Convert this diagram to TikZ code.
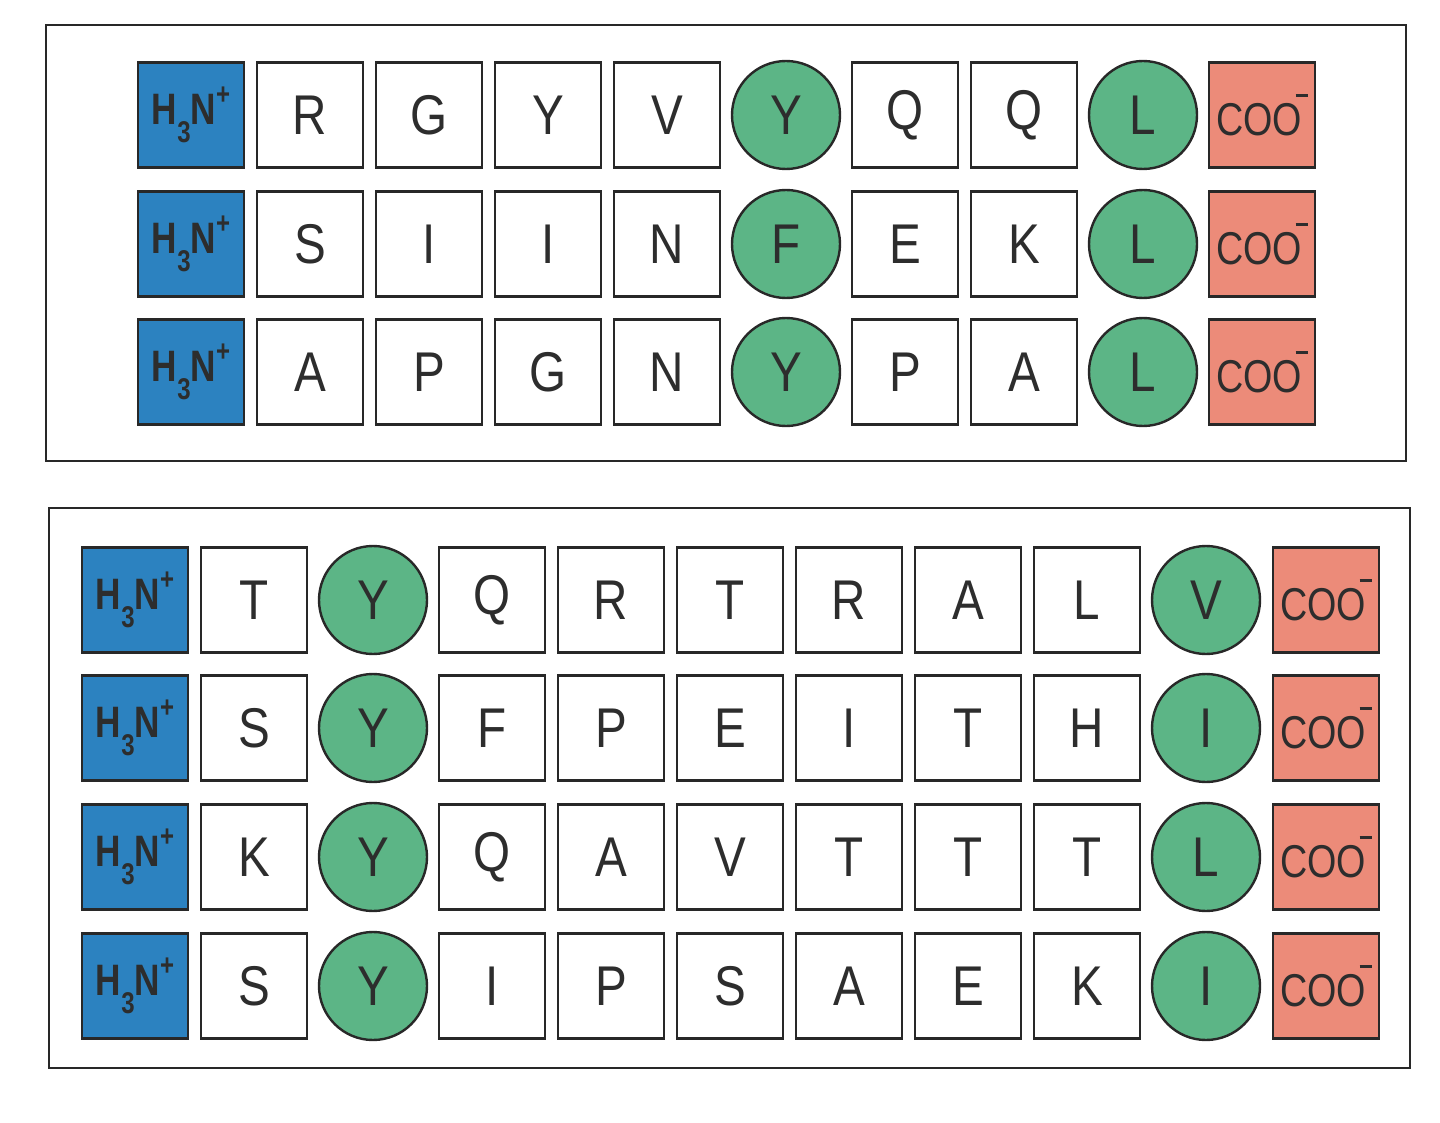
\documentclass[tikz,border=0pt]{standalone}
\usepackage{fontspec}
\setmainfont{Liberation Sans}
\usepackage{graphicx}
\definecolor{nblue}{RGB}{44,130,192}
\definecolor{rgreen}{RGB}{92,181,134}
\definecolor{csalmon}{RGB}{236,139,121}
\definecolor{edge}{RGB}{40,40,40}
\definecolor{ink}{RGB}{45,45,45}
\newcommand{\resfont}{\fontsize{56}{60}\selectfont}
\newcommand{\nterm}{\scalebox{0.8}[1]{\fontsize{44}{46}\selectfont\bfseries H\raisebox{-0.4em}{\fontsize{30}{30}\selectfont 3}N\raisebox{0.45em}{\fontsize{30}{30}\selectfont +}}}
\newcommand{\cterm}{\scalebox{0.82}[1]{\fontsize{46}{48}\selectfont COO\kern-0.17em\rule[0.85em]{0.33em}{0.065em}}}
\tikzset{
  frame/.style={draw=edge, line width=2.6pt},
  sq/.style={draw=edge, line width=2.6pt, fill=white, rectangle, minimum width=106pt, minimum height=105pt, inner sep=0pt, text=ink, font=\resfont},
  ci/.style={draw=edge, line width=2.4pt, fill=rgreen, circle, minimum size=108pt, inner sep=0pt, text=ink, font=\resfont},
  nt/.style={draw=edge, line width=2.6pt, fill=nblue, rectangle, minimum width=106pt, minimum height=105pt, inner sep=0pt, text=ink},
  ct/.style={draw=edge, line width=2.6pt, fill=csalmon, rectangle, minimum width=106pt, minimum height=105pt, inner sep=0pt, text=ink},
}
\begin{document}
\begin{tikzpicture}[x=1pt,y=-1pt]
\useasboundingbox (0,0) rectangle (1440,1123);
\draw[frame] (46,25) rectangle (1406,461);
\draw[frame] (49,508) rectangle (1410,1068);
% top panel
\foreach \row/\yy/\seq in {
  1/115/{R/sq,G/sq,Y/sq,V/sq,Y/ci,Q/sq,Q/sq,L/ci},
  2/244/{S/sq,I/sq,I/sq,N/sq,F/ci,E/sq,K/sq,L/ci},
  3/372/{A/sq,P/sq,G/sq,N/sq,Y/ci,P/sq,A/sq,L/ci}}{
  \node[nt] (tn\row) at (191,\yy) {\nterm};
  \foreach \l/\s [count=\i] in \seq {
    \node[\s] (t\row-\i) at ({191+119*\i},\yy) {\scalebox{0.85}[1]{\l}};
  }
  \node[ct] (tc\row) at (1262,\yy) {\cterm};
}
% bottom panel
\foreach \row/\yy/\seq in {
  1/600/{T/sq,Y/ci,Q/sq,R/sq,T/sq,R/sq,A/sq,L/sq,V/ci},
  2/728/{S/sq,Y/ci,F/sq,P/sq,E/sq,I/sq,T/sq,H/sq,I/ci},
  3/857/{K/sq,Y/ci,Q/sq,A/sq,V/sq,T/sq,T/sq,T/sq,L/ci},
  4/986/{S/sq,Y/ci,I/sq,P/sq,S/sq,A/sq,E/sq,K/sq,I/ci}}{
  \node[nt] (bn\row) at (135,\yy) {\nterm};
  \foreach \l/\s [count=\i] in \seq {
    \node[\s] (b\row-\i) at ({135+119*\i},\yy) {\scalebox{0.85}[1]{\l}};
  }
  \node[ct] (bc\row) at (1326,\yy) {\cterm};
}
\end{tikzpicture}
\end{document}
